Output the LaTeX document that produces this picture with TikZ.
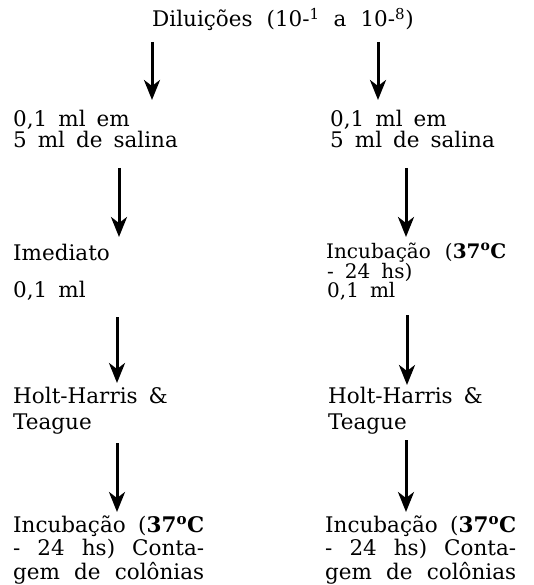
\documentclass[tikz,border=0pt]{standalone}
\usepackage{fontspec}
\setmainfont{DejaVu Serif}
\usetikzlibrary{arrows.meta}
\newcommand\txtfont{\fontsize{21.5}{25}\selectfont\spaceskip=11pt plus 2pt minus 2pt\relax}
\newcommand\smfont{\fontsize{20}{23}\selectfont\spaceskip=11pt plus 2pt minus 2pt\relax}
\newcommand\jline[1]{\hbox to 191pt{\spaceskip=6pt plus 1fil\relax #1}}
\newcommand\dgo{\textsuperscript{o}}
\begin{document}
\begin{tikzpicture}[x=1pt,y=-1pt,
  txt/.style={anchor=base west,inner sep=0pt,font=\txtfont},
  tight/.style={font=\smfont},
  arr/.style={line width=3pt,-{Stealth[length=20pt,width=16pt,inset=6pt]}}]
\useasboundingbox (0,0) rectangle (533,585);
% title
\node[txt] (title) at (152,27) {\spaceskip=14pt\relax Diluições (10-\textsuperscript{1} a 10-\textsuperscript{8})};
% left column
\node[txt] (l1a) at (13,127) {0,1 ml em};
\node[txt] (l1b) at (13,148) {5 ml de salina};
\node[txt] (l2) at (13,260) {Imediato};
\node[txt] (l3) at (13,297) {0,1 ml};
\node[txt] (l4a) at (13,403) {Holt-Harris \&};
\node[txt] (l4b) at (13,429) {Teague};
\node[txt] (l5a) at (13,532) {\jline{Incubação (\textbf{37\dgo C}}};
\node[txt] (l5b) at (13,555) {\jline{- 24 hs) Conta-}};
\node[txt] (l5c) at (13,579) {\jline{gem de colônias}};
% right column
\node[txt] (r1a) at (330,127) {0,1 ml em};
\node[txt] (r1b) at (330,148) {5 ml de salina};
\node[txt,tight] (r2a) at (326,258.5) {\spaceskip=14pt\relax Incubação (\textbf{37\dgo C}};
\node[txt,tight] (r2b) at (327,278) {- 24 hs)};
\node[txt,tight] (r3) at (327,297.5) {0,1 ml};
\node[txt] (r4a) at (328,403) {Holt-Harris \&};
\node[txt] (r4b) at (328,429) {Teague};
\node[txt] (r5a) at (325,532) {\jline{Incubação (\textbf{37\dgo C}}};
\node[txt] (r5b) at (325,555) {\jline{- 24 hs) Conta-}};
\node[txt] (r5c) at (325,579) {\jline{gem de colônias}};
% arrow end points
\coordinate (a1ls) at (152,42);  \coordinate (a1le) at (152,100);
\coordinate (a1rs) at (378,42);  \coordinate (a1re) at (378,100);
\coordinate (a2ls) at (119,168); \coordinate (a2le) at (119,237);
\coordinate (a2rs) at (406,168); \coordinate (a2re) at (406,237);
\coordinate (a3ls) at (117,317); \coordinate (a3le) at (117,383);
\coordinate (a3rs) at (407,315); \coordinate (a3re) at (407,385);
\coordinate (a4ls) at (117,443); \coordinate (a4le) at (117,512);
\coordinate (a4rs) at (406,440); \coordinate (a4re) at (406,512);
\draw[arr] (a1ls) -- (a1le);
\draw[arr] (a1rs) -- (a1re);
\draw[arr] (a2ls) -- (a2le);
\draw[arr] (a2rs) -- (a2re);
\draw[arr] (a3ls) -- (a3le);
\draw[arr] (a3rs) -- (a3re);
\draw[arr] (a4ls) -- (a4le);
\draw[arr] (a4rs) -- (a4re);
\end{tikzpicture}
\end{document}
